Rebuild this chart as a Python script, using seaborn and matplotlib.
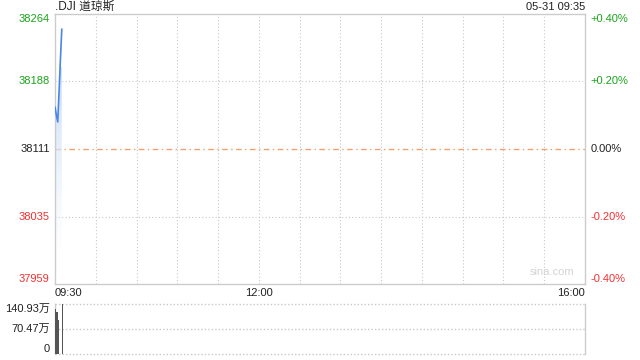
import numpy as np
import pandas as pd
import matplotlib
matplotlib.use("Agg")
import matplotlib.pyplot as plt
import seaborn as sns
from matplotlib.colors import LinearSegmentedColormap

# ---- data ----
minutes = [0, 1, 2, 3, 4, 5]
prices = [38159, 38150, 38142, 38177, 38213, 38247]
volumes_wan = [128.0, 117.0, 96.0, 0.0, 0.0, 140.93]
prev_close = 38111
price_ticks = [38264, 38188, 38111, 38035, 37959]
pct_labels = ["+0.40%", "+0.20%", "0.00%", "-0.20%", "-0.40%"]
vol_ticks = [140.93, 70.47, 0]
vol_labels = ["140.93万", "70.47万", "0"]
time_labels = ["09:30", "12:00", "16:00"]
time_pos = [0, 150, 390]
title = ".DJI 道琼斯"
stamp = "05-31 09:35"

sns.set_theme(style="white")
plt.rcParams['font.family'] = ['Liberation Sans', 'Noto Sans CJK SC', 'DejaVu Sans']

GREEN = "#1aa51a"
RED = "#f23030"
GRID = "#c8c8c8"
SPINE = "#cccccc"

fig = plt.figure(figsize=(6.4, 3.6), dpi=100)
ax = fig.add_axes([55/640, 1-284/360, 530/640, 270/360])
axv = fig.add_axes([55/640, 1-354/360, 530/640, 50/360])

df = pd.DataFrame({"t": minutes, "p": prices})
ymin, ymax = price_ticks[-1], price_ticks[0]
ax.set_xlim(0, 390)
ax.set_ylim(ymin, ymax)

# grid
for m in range(30, 390, 30):
    ax.axvline(m, color=GRID, lw=0.8, ls=(0, (1, 2)), zorder=1)
for v in [price_ticks[1], price_ticks[3]]:
    ax.axhline(v, color=GRID, lw=0.8, ls=(0, (1, 2)), zorder=1)
ax.axhline(prev_close, color="#f0a070", lw=1.0, ls=(0, (4, 2.5, 1, 2.5)), zorder=1)

# gradient fill under line
poly = ax.fill_between(df["t"], df["p"], ymin, facecolor="none", edgecolor="none")
cmap = LinearSegmentedColormap.from_list("g", [(1, 1, 1, 0), (0.78, 0.86, 0.98, 1.0)])
grad = np.linspace(0, 1, 256).reshape(-1, 1) ** 0.8
im = ax.imshow(grad, cmap=cmap, aspect="auto", origin="lower",
               extent=[0, 390, ymin + 15, ymax - 60], zorder=2)
im.set_clip_path(poly.get_paths()[0], transform=ax.transData)

sns.lineplot(data=df, x="t", y="p", ax=ax, color="#4a86e8", lw=1.2, zorder=3)

ax.set_xticks([]); ax.set_yticks([])
ax.set_xlabel(""); ax.set_ylabel("")
for s in ax.spines.values():
    s.set_color(SPINE); s.set_linewidth(1)

# price labels
tr = ax.get_yaxis_transform()
cols = [GREEN, GREEN, "#222222", RED, RED]
vas = ["top", "center", "center", "center", "bottom"]
for v, lab, c, va in zip(price_ticks, pct_labels, cols, vas):
    ax.text(-0.01, v, f"{v}", transform=tr, ha="right", va=va, color=c, fontsize=8)
    ax.text(1.01, v, lab, transform=tr, ha="left", va=va, color=c, fontsize=8)

# time labels
xt = ax.get_xaxis_transform()
ax.text(0, -0.015, time_labels[0], transform=xt, ha="left", va="top", fontsize=8, color="#222222")
ax.text(time_pos[1], -0.015, time_labels[1], transform=xt, ha="center", va="top", fontsize=8, color="#222222")
ax.text(time_pos[2], -0.015, time_labels[2], transform=xt, ha="right", va="top", fontsize=8, color="#222222")

ax.text(0.98, 0.025, "sina.com", transform=ax.transAxes, ha="right", va="bottom", fontsize=8, color="#d4d4d4")

fig.text(55/640, 1-7/360, title, ha="left", va="center", fontsize=8.5, color="#222222")
fig.text(585/640, 1-7/360, stamp, ha="right", va="center", fontsize=8, color="#222222")

# volume
axv.set_xlim(0, 390)
axv.set_ylim(0, vol_ticks[0])
axv.bar(minutes, volumes_wan, width=0.9, color="#555555", align="edge",
        edgecolor="none", linewidth=0, zorder=3)
for v in vol_ticks:
    axv.axhline(v, color=GRID, lw=1, ls=(0, (1, 1.5)), zorder=1, clip_on=False)
axv.set_xticks([]); axv.set_yticks([])
for k, s in axv.spines.items():
    s.set_color(SPINE); s.set_linewidth(1)
axv.spines["top"].set_visible(False)
axv.spines["bottom"].set_visible(False)
trv = axv.get_yaxis_transform()
for v, lab, va in zip(vol_ticks, vol_labels, ["top", "center", "bottom"]):
    axv.text(-0.01, v, lab, transform=trv, ha="right", va=va, fontsize=8, color="#222222")

fig.savefig("out.png", dpi=100)
